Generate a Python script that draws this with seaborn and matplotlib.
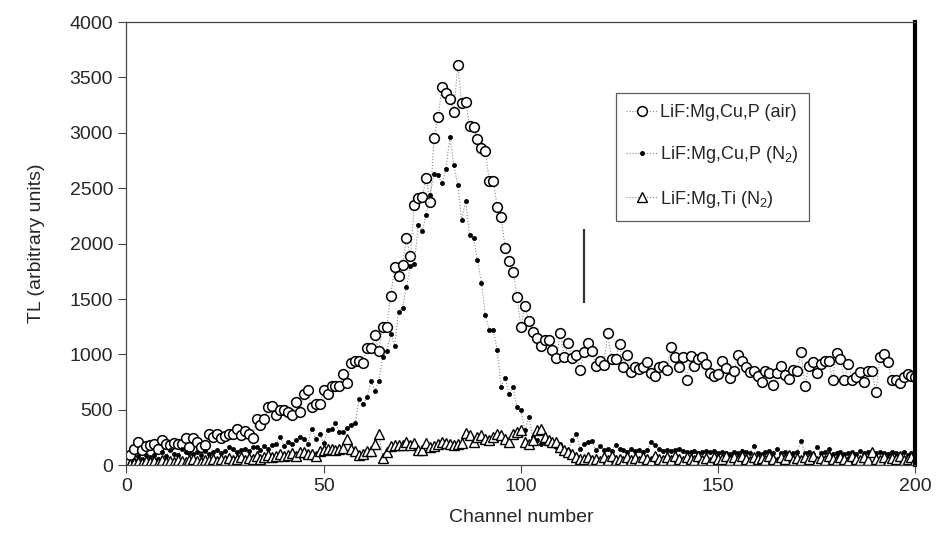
import numpy as np
import pandas as pd
import matplotlib
matplotlib.use("Agg")
import matplotlib.pyplot as plt
import seaborn as sns

# channels 1..200
channel = np.arange(1, 201)

# LiF:Mg,Cu,P (air) - open circles
tl_air = [
    90, 150, 210, 140, 170, 180, 195, 150, 225, 189,
    180, 200, 195, 189, 249, 165, 249, 207, 165, 186,
    279, 255, 285, 249, 264, 285, 285, 330, 270, 309,
    285, 249, 420, 360, 420, 524, 530, 449, 500, 494,
    479, 449, 569, 479, 644, 680, 524, 548, 548, 680,
    644, 716, 716, 716, 824, 740, 920, 943, 944, 920,
    1055, 1055, 1178, 1034, 1249, 1249, 1528, 1792, 1708, 1804,
    2047, 1885, 2352, 2410, 2421, 2592, 2376, 2957, 3140, 3413,
    3362, 3302, 3191, 3617, 3269, 3281, 3059, 3056, 2945, 2861,
    2837, 2568, 2568, 2328, 2241, 1963, 1843, 1741, 1522, 1249,
    1438, 1297, 1204, 1148, 1079, 1130, 1127, 1043, 968, 1193,
    974, 1100, 968, 995, 857, 1019, 1100, 1034, 896, 938,
    905, 1189, 956, 956, 1094, 890, 995, 845, 884, 866,
    884, 932, 836, 806, 884, 896, 860, 1064, 974, 890,
    974, 773, 986, 893, 956, 980, 914, 830, 806, 821,
    944, 875, 791, 848, 995, 938, 890, 845, 854, 809,
    749, 854, 830, 728, 836, 893, 818, 776, 860, 854,
    1025, 713, 896, 935, 830, 914, 944, 938, 770, 1013,
    956, 773, 914, 773, 800, 839, 749, 848, 854, 659,
    974, 1004, 935, 773, 773, 740, 800, 824, 809, 794,
]

# LiF:Mg,Cu,P (N2) - small filled dots
tl_n2 = [
    20, 50, 80, 60, 90, 70, 90, 60, 120, 80,
    135, 100, 90, 150, 120, 110, 100, 120, 90, 130,
    99, 120, 140, 110, 130, 160, 150, 120, 140, 150,
    130, 160, 165, 140, 170, 150, 180, 195, 255, 170,
    210, 190, 225, 255, 240, 195, 330, 240, 279, 200,
    315, 330, 380, 300, 300, 339, 360, 380, 599, 554,
    614, 758, 674, 758, 980, 1034, 1184, 1079, 1387, 1423,
    1609, 1795, 1819, 2172, 2112, 2262, 2442, 2631, 2616, 2544,
    2676, 2966, 2706, 2532, 2211, 2388, 2076, 2047, 1849, 1648,
    1357, 1219, 1219, 1040, 710, 788, 644, 704, 524, 494,
    315, 434, 255, 225, 195, 210, 195, 210, 165, 195,
    135, 135, 231, 285, 150, 195, 210, 219, 135, 170,
    135, 150, 130, 185, 150, 135, 120, 150, 130, 140,
    120, 140, 210, 180, 150, 130, 140, 130, 140, 150,
    130, 120, 120, 130, 110, 120, 130, 120, 130, 110,
    120, 110, 100, 120, 110, 130, 120, 110, 174, 110,
    100, 120, 130, 110, 148, 110, 120, 100, 110, 120,
    215, 110, 120, 100, 160, 110, 120, 148, 100, 110,
    120, 100, 110, 120, 100, 130, 110, 120, 100, 110,
    120, 110, 100, 120, 110, 100, 120, 90, 110, 90,
]

# LiF:Mg,Ti (N2) - open triangles
tl_ti = [
    10, 20, 30, 15, 40, 25, 35, 20, 45, 30,
    40, 25, 50, 35, 30, 45, 55, 40, 30, 50,
    45, 60, 40, 55, 50, 65, 45, 60, 70, 50,
    65, 55, 80, 60, 75, 90, 70, 85, 100, 80,
    95, 110, 85, 120, 120, 99, 100, 81, 129, 135,
    150, 150, 140, 150, 159, 234, 150, 130, 90, 100,
    130, 130, 195, 279, 69, 120, 171, 180, 180, 180,
    210, 180, 200, 141, 140, 200, 160, 170, 190, 210,
    200, 195, 180, 190, 200, 291, 270, 210, 255, 270,
    240, 225, 250, 285, 270, 240, 210, 285, 300, 315,
    210, 195, 225, 315, 330, 255, 225, 210, 210, 165,
    135, 120, 99, 75, 60, 60, 70, 45, 60, 40,
    70, 50, 80, 45, 60, 35, 75, 50, 65, 40,
    70, 55, 40, 80, 60, 45, 70, 50, 85, 55,
    40, 75, 60, 50, 80, 45, 65, 30, 70, 55,
    60, 80, 45, 70, 50, 85, 60, 40, 75, 55,
    65, 45, 80, 55, 30, 70, 60, 90, 50, 65,
    45, 75, 55, 80, 40, 65, 50, 85, 60, 45,
    70, 55, 40, 80, 60, 50, 75, 45, 120, 60,
    50, 75, 40, 65, 55, 80, 45, 60, 70, 50,
]

labels = ["LiF:Mg,Cu,P (air)",
          "LiF:Mg,Cu,P (N$_\\mathregular{2}$)",
          "LiF:Mg,Ti (N$_\\mathregular{2}$)"]

# vertical marker line (channel, from, to)
arrow_ch = 116
arrow_top = 2130
arrow_bottom = 1460

df = pd.DataFrame({"channel": channel, "air": tl_air, "n2": tl_n2, "ti": tl_ti})

sns.set_style("ticks")
plt.rcParams["font.family"] = ["Liberation Sans", "DejaVu Sans"]
plt.rcParams["mathtext.fontset"] = "custom"
plt.rcParams["mathtext.rm"] = "Liberation Sans"

fig = plt.figure(figsize=(9.36, 5.39), dpi=100)
ax = fig.add_axes([0.135, 0.137, 0.843, 0.822])

line_kw = dict(color="#8a8a8a", linestyle=":", linewidth=0.8, ax=ax)
sns.lineplot(data=df, x="channel", y="air", marker="o", ms=7, mfc="white",
             mec="black", mew=1.1, label=labels[0], **line_kw)
sns.lineplot(data=df, x="channel", y="n2", marker="o", ms=3, mfc="black",
             mec="black", mew=0.5, label=labels[1], **line_kw)
sns.lineplot(data=df, x="channel", y="ti", marker="^", ms=6.5, mfc="white",
             mec="black", mew=1.0, label=labels[2], **line_kw)

ax.vlines(arrow_ch, arrow_bottom, arrow_top, color="#333333", linewidth=1.6)

ax.set_xlim(0, 200)
ax.set_ylim(0, 4000)
ax.set_xticks(np.arange(0, 201, 50))
ax.set_yticks(np.arange(0, 4001, 500))
ax.tick_params(labelsize=14, length=6, width=0.8, color="#444444")
ax.set_xlabel("Channel number", fontsize=14, labelpad=10)
ax.set_ylabel("TL (arbitrary units)", fontsize=14, labelpad=18)

for side in ["left", "bottom", "top"]:
    ax.spines[side].set_visible(True)
    ax.spines[side].set_linewidth(0.9)
    ax.spines[side].set_color("#444444")
ax.spines["right"].set_visible(True)
ax.spines["right"].set_linewidth(3)
ax.spines["right"].set_color("black")

leg = ax.legend(loc="upper left", bbox_to_anchor=(0.62, 0.84), frameon=True,
                fancybox=False, edgecolor="#333333", fontsize=13,
                labelspacing=1.3, handlelength=1.7, handletextpad=0.15,
                borderpad=0.6, borderaxespad=0)
leg.get_frame().set_linewidth(0.9)

fig.savefig("out.png", dpi=100)
